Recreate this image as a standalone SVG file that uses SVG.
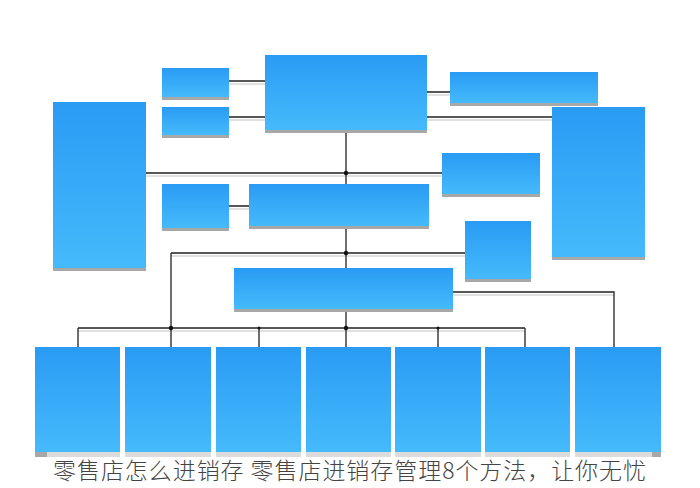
<svg xmlns="http://www.w3.org/2000/svg" width="700" height="488" viewBox="0 0 700 488">
<defs>
<linearGradient id="g" x1="0" y1="0" x2="0" y2="1">
<stop offset="0" stop-color="#2a9bf4"/>
<stop offset="1" stop-color="#45bafb"/>
</linearGradient>
<style>
.box{fill:url(#g)}
.sh{fill:#a8a8a8}
.ln{stroke:#222;stroke-width:1.3;fill:none}
.lg{stroke:#c4c4c4;stroke-width:1.2;fill:none}
.dot{fill:#111}
.cap{font-family:"Noto Sans CJK SC","Noto Sans",sans-serif;font-size:23px;font-weight:300;fill:#444}
</style>
</defs>
<rect width="700" height="488" fill="#fff"/>
<g id="connectors">
<path class="lg" d="M229 84H265M229 120H265M427 95H450M427 120H552M146 176H442M229 209H249M171 256H465M78 331H525M453 295H614"/>
<path class="ln" d="M229 81H265M229 117H265M427 92H450M427 117H552M346 133V184M146 173H442M229 206H249M346 229V268M171 253H465M171 253V347M346 312V347M78 328H525M78 328V347M259 328V347M438 328V347M525 328V347M453 292H614V347"/>
<circle class="dot" cx="346" cy="173" r="2.2"/>
<circle class="dot" cx="346" cy="253" r="2.2"/>
<circle class="dot" cx="171" cy="328" r="2.2"/>
<circle class="dot" cx="346" cy="328" r="2.2"/>
<circle class="dot" cx="259" cy="328" r="1.5"/>
<circle class="dot" cx="438" cy="328" r="1.5"/>
</g>
<g id="n-left"><rect class="sh" x="53" y="105" width="93" height="166"/><rect class="box" x="53" y="102" width="93" height="166"/></g>
<g id="n-s1"><rect class="sh" x="162" y="71" width="67" height="29"/><rect class="box" x="162" y="68" width="67" height="29"/></g>
<g id="n-s2"><rect class="sh" x="162" y="110" width="67" height="28"/><rect class="box" x="162" y="107" width="67" height="28"/></g>
<g id="n-top"><rect class="sh" x="265" y="58" width="162" height="75"/><rect class="box" x="265" y="55" width="162" height="75"/></g>
<g id="n-topright"><rect class="sh" x="450" y="75" width="148" height="31"/><rect class="box" x="450" y="72" width="148" height="31"/></g>
<g id="n-right"><rect class="sh" x="552" y="110" width="93" height="150"/><rect class="box" x="552" y="107" width="93" height="150"/></g>
<g id="n-midright"><rect class="sh" x="442" y="156" width="98" height="41"/><rect class="box" x="442" y="153" width="98" height="41"/></g>
<g id="n-s3"><rect class="sh" x="162" y="187" width="67" height="44"/><rect class="box" x="162" y="184" width="67" height="44"/></g>
<g id="n-mid"><rect class="sh" x="249" y="187" width="180" height="42"/><rect class="box" x="249" y="184" width="180" height="42"/></g>
<g id="n-small"><rect class="sh" x="465" y="224" width="66" height="58"/><rect class="box" x="465" y="221" width="66" height="58"/></g>
<g id="n-third"><rect class="sh" x="234" y="271" width="219" height="41"/><rect class="box" x="234" y="268" width="219" height="41"/></g>
<g id="n-b1"><rect class="sh" x="35" y="352" width="85" height="105"/><rect class="box" x="35" y="347" width="85" height="105"/></g>
<g id="n-b2"><rect class="sh" x="125" y="352" width="86" height="105"/><rect class="box" x="125" y="347" width="86" height="105"/></g>
<g id="n-b3"><rect class="sh" x="216" y="352" width="85" height="105"/><rect class="box" x="216" y="347" width="85" height="105"/></g>
<g id="n-b4"><rect class="sh" x="306" y="352" width="85" height="105"/><rect class="box" x="306" y="347" width="85" height="105"/></g>
<g id="n-b5"><rect class="sh" x="395" y="352" width="86" height="105"/><rect class="box" x="395" y="347" width="86" height="105"/></g>
<g id="n-b6"><rect class="sh" x="485" y="352" width="85" height="105"/><rect class="box" x="485" y="347" width="85" height="105"/></g>
<g id="n-b7"><rect class="sh" x="575" y="352" width="86" height="105"/><rect class="box" x="575" y="347" width="86" height="105"/></g>
<rect x="47" y="452" width="605" height="36" fill="#fff" opacity="0.6"/>
<text class="cap" x="53" y="479" textLength="593" lengthAdjust="spacing">零售店怎么进销存 零售店进销存管理8个方法，让你无忧</text>
</svg>
